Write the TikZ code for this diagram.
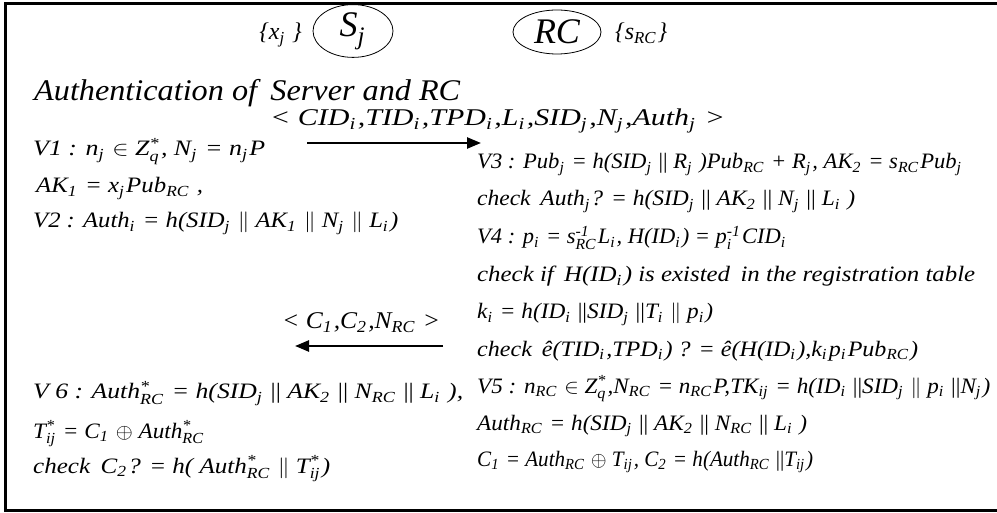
\documentclass[tikz,border=0pt]{standalone}
\usepackage{amsmath}
\usepackage{graphicx}
\usepackage{fontspec}
\setmainfont{Liberation Serif}
\usetikzlibrary{arrows.meta,shapes.geometric}
\newcommand\sbs[1]{\ensuremath{_{\text{#1}}}\kern1.5pt\relax}
\newcommand\ssb[2]{\ensuremath{^{\text{#1}}_{\text{#2}}}\kern1.5pt\relax}
\newcommand\bars{\textup{||}}
\newcommand\fitw[2]{\resizebox{#1pt}{\height}{#2}}
\begin{document}
\begin{tikzpicture}[x=1pt,y=-1pt,
  txt/.style={anchor=base west,inner sep=0pt,font=\fontsize{22}{24}\selectfont\itshape},
  msg/.style={anchor=base west,inner sep=0pt,font=\fontsize{24}{26}\selectfont\itshape},
  party/.style={ellipse,draw,line width=0.8pt,inner sep=0pt,font=\fontsize{36}{38}\selectfont\itshape},
  keys/.style={inner sep=0pt,font=\fontsize{24}{26}\selectfont\itshape},
  msgarrow/.style={line width=2.5pt,-{Triangle[length=14pt,width=11pt]}}]
\useasboundingbox (0,0) rectangle (997,513);
\draw[line width=2.7pt] (997,3.3) -- (5.3,3.3) -- (5.3,510.7) -- (997,510.7);
% parties
\node[party,minimum width=80pt,minimum height=42pt] (sj) at (353,31) {S\sbs{j}};
\node[party,minimum width=88pt,minimum height=44pt] (rc) at (557,32) {RC};
\node[keys,anchor=east] (xj) at (302,35) {\{x\sbs{j} \}};
\node[keys,anchor=west] (src) at (615,33) {\{s\sbs{RC}\}};
\node[anchor=base west,inner sep=0pt,font=\fontsize{30}{34}\selectfont\itshape] (title) at (34,101) {\fitw{426}{Authentication of\, Server and RC}};
% message 1
\node[msg] (m1) at (270,126) {\fitw{455}{< CID\sbs{i},TID\sbs{i},TPD\sbs{i},L\sbs{i},SID\sbs{j},N\sbs{j},Auth\sbs{j} >}};
\coordinate (a1s) at (307,143);
\coordinate (a1e) at (481,143);
\draw[msgarrow] (a1s) -- (a1e);
% left column top
\node[txt] (v1) at (33,156) {\fitw{232}{V1 : n\sbs{j} $\in$ Z\ssb{*}{q}, N\sbs{j} = n\sbs{j}P}};
\node[txt] (ak1) at (36,193) {\fitw{167}{AK\sbs{1} = x\sbs{j}Pub\sbs{RC} ,}};
\node[txt] (v2) at (33,228) {\fitw{365}{V2 : Auth\sbs{i} = h(SID\sbs{j} $\Vert$ AK\sbs{1} $\Vert$ N\sbs{j} $\Vert$ L\sbs{i})}};
% right column
\node[txt] (v3) at (477,169) {\fitw{486}{V3 : Pub\sbs{j} = h(SID\sbs{j} \bars{} R\sbs{j} )Pub\sbs{RC} + R\sbs{j}, AK\sbs{2} = s\sbs{RC}Pub\sbs{j}}};
\node[txt] (ca) at (477,206) {\fitw{378}{check\, Auth\sbs{j}? = h(SID\sbs{j} \bars{} AK\sbs{2} \bars{} N\sbs{j} \bars{} L\sbs{i} )}};
\node[txt] (v4) at (477,244) {\fitw{310}{V4 : p\sbs{i} = s\ssb{-1}{RC}L\sbs{i}, H(ID\sbs{i}) = p\ssb{-1}{i}CID\sbs{i}}};
\node[txt] (cif) at (477,282) {\fitw{498}{check if\, H(ID\sbs{i}) is existed\, in the registration table}};
\node[txt] (ki) at (477,319) {\fitw{236}{k\sbs{i} = h(ID\sbs{i} \bars{}SID\sbs{j} \bars{}T\sbs{i} $\Vert$ p\sbs{i})}};
\node[txt] (ce) at (477,356) {\fitw{441}{check\, \^e(TID\sbs{i},TPD\sbs{i}) ? = \^e(H(ID\sbs{i}),k\sbs{i}p\sbs{i}Pub\sbs{RC})}};
\node[txt] (v5) at (477,393) {\fitw{513}{V5 : n\sbs{RC} $\in$ Z\ssb{*}{q},N\sbs{RC} = n\sbs{RC}P,TK\sbs{ij} = h(ID\sbs{i} \bars{}SID\sbs{j} $\Vert$ p\sbs{i} \bars{}N\sbs{j})}};
\node[txt] (arc) at (477,430) {\fitw{330}{Auth\sbs{RC} = h(SID\sbs{j} \bars{} AK\sbs{2} \bars{} N\sbs{RC} \bars{} L\sbs{i} )}};
\node[txt] (c1) at (477,466) {\fitw{336}{C\sbs{1} = Auth\sbs{RC} $\oplus$ T\sbs{ij}, C\sbs{2} = h(Auth\sbs{RC} \bars{}T\sbs{ij})}};
% message 2
\node[msg] (m2) at (282,329) {\fitw{158}{< C\sbs{1},C\sbs{2},N\sbs{RC} >}};
\coordinate (a2s) at (443,346);
\coordinate (a2e) at (295,346);
\draw[msgarrow] (a2s) -- (a2e);
% left column bottom
\node[txt] (v6) at (33,399) {\fitw{430}{V 6 : Auth\ssb{*}{RC} = h(SID\sbs{j} \bars{} AK\sbs{2} \bars{} N\sbs{RC} \bars{} L\sbs{i} ),}};
\node[txt] (tij) at (33,438) {\fitw{172}{T\ssb{*}{ij} = C\sbs{1} $\oplus$ Auth\ssb{*}{RC}}};
\node[txt] (cc2) at (33,473) {\fitw{297}{check\, C\sbs{2}? = h( Auth\ssb{*}{RC} $\Vert$ T\ssb{*}{ij})}};
\end{tikzpicture}
\end{document}
